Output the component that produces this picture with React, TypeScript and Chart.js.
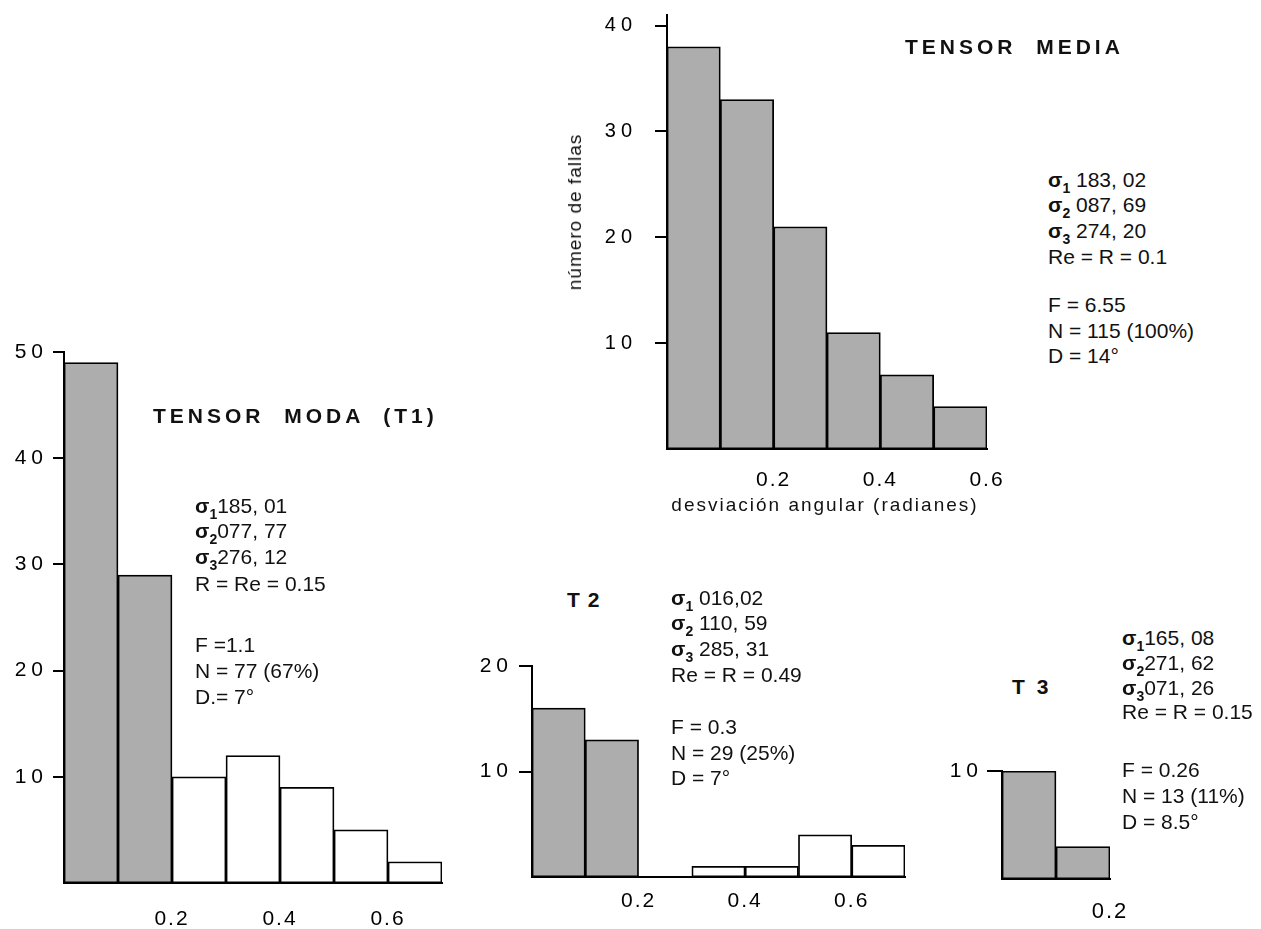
import React, { useEffect, useRef } from 'react';
import { Chart, registerables } from 'chart.js';

Chart.register(...registerables);

// ---------- data ----------
const BIN_MIDPOINTS = [0.05, 0.15, 0.25, 0.35, 0.45, 0.55, 0.65];
const MEDIA_COUNTS = [38, 33, 21, 11, 7, 4];
const T1_COUNTS = [49, 29, 10, 12, 9, 5, 2];
const T2_COUNTS = [16, 13, 0, 1, 1, 4, 3];
const T3_COUNTS = [10, 3];
const MEDIA_SHADED = 6;
const T1_SHADED = 2;
const T2_SHADED = 2;
const T3_SHADED = 2;
const X_TICKS = [0.2, 0.4, 0.6];
const T3_X_TICKS = [0.2];
const MEDIA_Y_TICKS = [10, 20, 30, 40];
const T1_Y_TICKS = [10, 20, 30, 40, 50];
const T2_Y_TICKS = [10, 20];
const T3_Y_TICKS = [10];

const MEDIA_STATS = ['σ1 183, 02', 'σ2 087, 69', 'σ3 274, 20', 'Re = R = 0.1', 'F = 6.55', 'N = 115 (100%)', 'D = 14°'];
const T1_STATS = ['σ1185, 01', 'σ2077, 77', 'σ3276, 12', 'R = Re = 0.15', 'F =1.1', 'N = 77 (67%)', 'D.= 7°'];
const T2_STATS = ['σ1 016,02', 'σ2 110, 59', 'σ3 285, 31', 'Re = R = 0.49', 'F = 0.3', 'N = 29 (25%)', 'D = 7°'];
const T3_STATS = ['σ1165, 08', 'σ2271, 62', 'σ3071, 26', 'Re = R = 0.15', 'F = 0.26', 'N = 13 (11%)', 'D = 8.5°'];

const FONT = '"Liberation Sans", Arial, Helvetica, sans-serif';
const GRAY = '#adadad';

type Box = { l: number; t: number; w: number; h: number };
type Area = { l: number; t: number; r: number; b: number };

type HistProps = {
  counts: number[];
  shaded: number;
  xMax: number;
  yMax: number;
  xTicks: number[];
  yTicks: number[];
  box: Box;
  area: Area;
  yFont: number;
  xFont: number;
  yPad: number;
  xPad: number;
  tickLen: number;
  ySpacing: number;
  xSpacing: number;
};

function Histogram(p: HistProps) {
  const ref = useRef<HTMLCanvasElement | null>(null);
  useEffect(() => {
    const canvas = ref.current;
    if (!canvas) return;
    const spacing = {
      id: 'letterSpacing',
      beforeDraw(c: any) {
        c.ctx.letterSpacing = p.ySpacing + 'px';
      },
      afterDatasetsDraw(c: any) {
        c.ctx.letterSpacing = p.xSpacing + 'px';
      },
    };
    const chart = new Chart(canvas, {
      type: 'bar',
      data: {
        datasets: [
          {
            data: p.counts.map((c, i) => ({ x: BIN_MIDPOINTS[i], y: c })),
            backgroundColor: p.counts.map((_, i) => (i < p.shaded ? GRAY : '#ffffff')),
            borderColor: '#000',
            borderWidth: 1.75,
            borderSkipped: false,
            barPercentage: 1,
            categoryPercentage: 1,
          } as any,
        ],
      },
      options: {
        responsive: false,
        animation: false,
        events: [],
        layout: {
          padding: {
            left: 0,
            top: p.area.t - p.box.t,
            right: p.box.l + p.box.w - p.area.r,
            bottom: 0,
          },
        },
        plugins: {
          legend: { display: false },
          tooltip: { enabled: false },
          title: { display: false },
        },
        scales: {
          x: {
            type: 'linear',
            min: 0,
            max: p.xMax,
            offset: false,
            grid: { display: false, drawTicks: false, offset: false },
            border: { display: true, color: '#000', width: 2, z: 1 },
            ticks: {
              z: 1,
              font: { family: FONT, size: p.xFont },
              color: '#000',
              padding: p.xPad,
              maxRotation: 0,
              autoSkip: false,
              callback: (v: any) => Number(v).toFixed(1),
            },
            afterBuildTicks: (s: any) => {
              s.ticks = p.xTicks.map((v) => ({ value: v }));
            },
            afterFit: (s: any) => {
              s.height = p.box.t + p.box.h - p.area.b;
              s.paddingLeft = 0;
              s.paddingRight = 0;
              s.paddingTop = 0;
              s.paddingBottom = 0;
            },
          },
          y: {
            type: 'linear',
            position: 'left',
            min: 0,
            max: p.yMax,
            grid: {
              display: true,
              drawOnChartArea: false,
              drawTicks: true,
              tickLength: p.tickLen,
              color: '#000',
              lineWidth: 2,
            },
            border: { display: true, color: '#000', width: 2 },
            ticks: {
              z: 0,
              font: { family: FONT, size: p.yFont },
              color: '#000',
              padding: p.yPad,
              autoSkip: false,
              callback: (v: any) => String(v),
            },
            afterBuildTicks: (s: any) => {
              s.ticks = p.yTicks.map((v) => ({ value: v }));
            },
            afterFit: (s: any) => {
              s.width = p.area.l - p.box.l;
              s.paddingLeft = 0;
              s.paddingRight = 0;
              s.paddingTop = 0;
              s.paddingBottom = 0;
            },
          },
        },
      } as any,
      plugins: [spacing],
    });
    return () => chart.destroy();
  }, []);
  return (
    <canvas
      ref={ref}
      width={p.box.w}
      height={p.box.h}
      style={{ position: 'absolute', left: p.box.l, top: p.box.t, width: p.box.w, height: p.box.h }}
    />
  );
}

function Line({ x, cy, text, size = 21 }: { x: number; cy: number; text: string; size?: number }) {
  const lh = 26;
  let content: React.ReactNode = text;
  if (text.startsWith('σ')) {
    const sub = text.charAt(1);
    const rest = text.slice(2);
    content = (
      <>
        <span style={{ fontWeight: 700 }}>
          σ
          <span style={{ fontSize: 14, verticalAlign: -6, lineHeight: 0 }}>{sub}</span>
        </span>
        {rest}
      </>
    );
  }
  return (
    <div
      style={{
        position: 'absolute',
        left: x,
        top: cy - lh / 2,
        lineHeight: lh + 'px',
        fontSize: size,
        whiteSpace: 'pre',
        fontFamily: FONT,
        color: '#111',
      }}
    >
      {content}
    </div>
  );
}

function Block({ x, ys, lines }: { x: number; ys: number[]; lines: string[] }) {
  return (
    <>
      {lines.map((t, i) => (
        <Line key={i} x={x} cy={ys[i]} text={t} />
      ))}
    </>
  );
}

function Title({ x, cy, text, spacing = 4, size = 21 }: { x: number; cy: number; text: string; spacing?: number; size?: number }) {
  const lh = 26;
  return (
    <div
      style={{
        position: 'absolute',
        left: x,
        top: cy - lh / 2,
        lineHeight: lh + 'px',
        fontSize: size,
        fontWeight: 700,
        letterSpacing: spacing,
        whiteSpace: 'pre',
        fontFamily: FONT,
        color: '#111',
      }}
    >
      {text}
    </div>
  );
}

export default function App() {
  return (
    <div
      style={{
        position: 'absolute',
        left: 0,
        top: 0,
        width: 1261,
        height: 929,
        background: '#fff',
        overflow: 'hidden',
        fontFamily: FONT,
      }}
    >
      {/* TENSOR MEDIA */}
      <Histogram
        counts={MEDIA_COUNTS}
        shaded={MEDIA_SHADED}
        xMax={0.6}
        yMax={41}
        xTicks={X_TICKS}
        yTicks={MEDIA_Y_TICKS}
        box={{ l: 560, t: 0, w: 450, h: 500 }}
        area={{ l: 667, t: 15, r: 987, b: 449 }}
        yFont={20}
        xFont={21}
        yPad={18}
        xPad={19}
        tickLen={12}
        ySpacing={5}
        xSpacing={2}
      />
      <div
        style={{
          position: 'absolute',
          left: 575,
          top: 212,
          transform: 'translate(-50%, -50%) rotate(-90deg)',
          fontSize: 19,
          letterSpacing: 1,
          whiteSpace: 'pre',
          lineHeight: '24px',
          color: '#111',
        }}
      >
        número de fallas
      </div>
      <div
        style={{
          position: 'absolute',
          left: 825,
          top: 505 - 12,
          transform: 'translateX(-50%)',
          fontSize: 19,
          letterSpacing: 2,
          whiteSpace: 'pre',
          lineHeight: '24px',
          color: '#111',
        }}
      >
        desviación angular (radianes)
      </div>
      <Title x={905} cy={47} text={'TENSOR  MEDIA'} />
      <Block x={1048} ys={[180, 205, 231, 257, 305, 331, 356]} lines={MEDIA_STATS} />

      {/* TENSOR MODA (T1) */}
      <Histogram
        counts={T1_COUNTS}
        shaded={T1_SHADED}
        xMax={0.7}
        yMax={50}
        xTicks={X_TICKS}
        yTicks={T1_Y_TICKS}
        box={{ l: 0, t: 330, w: 470, h: 599 }}
        area={{ l: 64, t: 352, r: 442, b: 883 }}
        yFont={21}
        xFont={21}
        yPad={5}
        xPad={24}
        tickLen={11}
        ySpacing={5}
        xSpacing={2}
      />
      <Title x={153} cy={416} text={'TENSOR  MODA  (T1)'} />
      <Block x={195} ys={[506, 531, 557, 584, 645, 671, 697]} lines={T1_STATS} />

      {/* T2 */}
      <Histogram
        counts={T2_COUNTS}
        shaded={T2_SHADED}
        xMax={0.7}
        yMax={20}
        xTicks={X_TICKS}
        yTicks={T2_Y_TICKS}
        box={{ l: 470, t: 640, w: 455, h: 289 }}
        area={{ l: 532, t: 666, r: 905, b: 877 }}
        yFont={21}
        xFont={21}
        yPad={6}
        xPad={12}
        tickLen={13}
        ySpacing={5}
        xSpacing={2}
      />
      <Title x={567} cy={600} text={'T 2'} spacing={1} />
      <Block x={671} ys={[598, 623, 649, 675, 727, 753, 778]} lines={T2_STATS} />

      {/* T3 */}
      <Histogram
        counts={T3_COUNTS}
        shaded={T3_SHADED}
        xMax={0.2}
        yMax={10}
        xTicks={T3_X_TICKS}
        yTicks={T3_Y_TICKS}
        box={{ l: 935, t: 740, w: 205, h: 189 }}
        area={{ l: 1002, t: 771, r: 1110, b: 879 }}
        yFont={21}
        xFont={22}
        yPad={4}
        xPad={20}
        tickLen={15}
        ySpacing={5}
        xSpacing={2}
      />
      <Title x={1012} cy={687} text={'T 3'} spacing={3} />
      <Block x={1122} ys={[638, 663, 688, 712, 770, 796, 822]} lines={T3_STATS} />
    </div>
  );
}
